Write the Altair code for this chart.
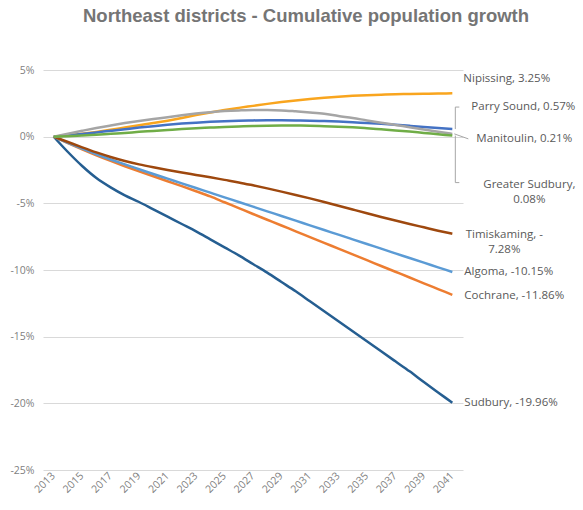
import altair as alt
import pandas as pd

years = [2013, 2014, 2015, 2016, 2017, 2018, 2019, 2020, 2021, 2022,
         2023, 2024, 2025, 2026, 2027, 2028, 2029, 2030, 2031, 2032,
         2033, 2034, 2035, 2036, 2037, 2038, 2039, 2040, 2041]
tick_years = [2013, 2015, 2017, 2019, 2021, 2023, 2025, 2027, 2029,
              2031, 2033, 2035, 2037, 2039, 2041]
y_ticks = [-25, -20, -15, -10, -5, 0, 5]

names = ["Sudbury", "Cochrane", "Algoma", "Timiskaming",
         "Nipissing", "Parry Sound", "Manitoulin", "Greater Sudbury"]
colors = ["#255E91", "#ED7D31", "#5B9BD5", "#9E480E",
          "#F9A51E", "#4472C4", "#A5A5A5", "#70AD47"]

sudbury = [0, -1.15, -2.2, -3.1, -3.8, -4.4, -4.9, -5.45, -6.0, -6.55,
           -7.1, -7.7, -8.3, -8.9, -9.55, -10.2, -10.9, -11.6, -12.35, -13.1,
           -13.85, -14.6, -15.35, -16.1, -16.85, -17.6, -18.4, -19.18, -19.96]
cochrane = [0, -0.48, -0.95, -1.4, -1.82, -2.22, -2.6, -2.97, -3.34, -3.71,
            -4.09, -4.48, -4.92, -5.36, -5.8, -6.23, -6.66, -7.1, -7.53, -7.96,
            -8.4, -8.83, -9.26, -9.7, -10.13, -10.56, -11.0, -11.43, -11.86]
algoma = [0, -0.46, -0.9, -1.32, -1.71, -2.08, -2.44, -2.8, -3.15, -3.5,
          -3.85, -4.2, -4.55, -4.9, -5.25, -5.6, -5.95, -6.3, -6.65, -7.0,
          -7.35, -7.7, -8.05, -8.4, -8.75, -9.1, -9.45, -9.8, -10.15]
timiskaming = [0, -0.4, -0.8, -1.18, -1.52, -1.82, -2.08, -2.3, -2.5, -2.69,
               -2.87, -3.05, -3.24, -3.43, -3.65, -3.88, -4.12, -4.37, -4.63, -4.9,
               -5.18, -5.46, -5.74, -6.02, -6.29, -6.55, -6.8, -7.05, -7.28]
nipissing = [0, 0.1, 0.22, 0.36, 0.52, 0.69, 0.86, 1.02, 1.2, 1.4,
             1.62, 1.82, 2.0, 2.16, 2.31, 2.46, 2.6, 2.72, 2.83, 2.92,
             3.0, 3.06, 3.11, 3.15, 3.18, 3.2, 3.22, 3.24, 3.25]
parry_sound = [0, 0.1, 0.2, 0.32, 0.44, 0.56, 0.68, 0.79, 0.89, 0.98,
               1.05, 1.11, 1.16, 1.2, 1.22, 1.23, 1.23, 1.22, 1.2, 1.17,
               1.13, 1.08, 1.02, 0.96, 0.89, 0.81, 0.73, 0.65, 0.57]
manitoulin = [0, 0.22, 0.44, 0.65, 0.84, 1.02, 1.18, 1.32, 1.45, 1.6,
              1.73, 1.84, 1.92, 1.97, 2.0, 2.0, 1.97, 1.9, 1.82, 1.72,
              1.55, 1.4, 1.22, 1.05, 0.88, 0.71, 0.54, 0.37, 0.21]
greater_sudbury = [0, 0.03, 0.08, 0.14, 0.21, 0.28, 0.36, 0.43, 0.5, 0.57,
                   0.63, 0.68, 0.73, 0.77, 0.8, 0.82, 0.83, 0.83, 0.82, 0.79,
                   0.75, 0.7, 0.63, 0.55, 0.47, 0.38, 0.28, 0.18, 0.08]

end_labels = ["Sudbury, -19.96%", "Cochrane, -11.86%", "Algoma, -10.15%",
              "Timiskaming, -\n7.28%", "Nipissing, 3.25%", "Parry Sound, 0.57%",
              "Manitoulin, 0.21%", "Greater Sudbury,\n0.08%"]

series_values = [sudbury, cochrane, algoma, timiskaming, nipissing,
                 parry_sound, manitoulin, greater_sudbury]

rows = []
for name, vals in zip(names, series_values):
    for yr, v in zip(years, vals):
        rows.append({"series": name, "year": yr, "value": v})
df = pd.DataFrame(rows)

end_rows = []
for name, vals, lab in zip(names, series_values, end_labels):
    end_rows.append({"series": name, "year": years[-1], "value": vals[-1], "label": lab})
ends = pd.DataFrame(end_rows)

FONT = "Open Sans"
LABEL_COLOR = "#595959"
AXIS_COLOR = "#7F7F7F"

x_enc = alt.X("year:O", scale=alt.Scale(padding=0.5),
              axis=alt.Axis(values=tick_years, labelAngle=-45, labelAlign="right",
                            labelBaseline="middle", domain=False, ticks=False,
                            grid=False, title=None, labelColor=AXIS_COLOR, labelFontSize=10.5,
                            labelFont=FONT, labelPadding=4))
y_enc = alt.Y("value:Q", scale=alt.Scale(domain=[-25, 5], nice=False, zero=False),
              axis=alt.Axis(values=y_ticks, labelExpr="datum.value + '%'", grid=True,
                            gridColor="#D9D9D9", gridWidth=1, domain=False, ticks=False,
                            title=None, labelColor=AXIS_COLOR, labelFontSize=10.5,
                            labelFont=FONT, labelPadding=9))

lines = alt.Chart(df).mark_line(strokeWidth=2.5, interpolate="monotone").encode(
    x=x_enc,
    y=y_enc,
    color=alt.Color("series:N", scale=alt.Scale(domain=names, range=colors), legend=None),
    order=alt.Order("year:O"),
)

# label placement (pixel offsets from each line's end point)
label_style = {
    "Sudbury": dict(align="left", dx=12, dy=0),
    "Cochrane": dict(align="left", dx=12, dy=1.5),
    "Algoma": dict(align="left", dx=12, dy=0),
    "Timiskaming": dict(align="center", dx=52, dy=1),
    "Nipissing": dict(align="left", dx=11, dy=-14),
    "Parry Sound": dict(align="left", dx=19, dy=-22),
    "Manitoulin": dict(align="left", dx=24, dy=5),
    "Greater Sudbury": dict(align="center", dx=77, dy=49),
}

text_layers = []
for name in names:
    st = label_style[name]
    text_layers.append(
        alt.Chart(ends).transform_filter(alt.datum.series == name).mark_text(
            align=st["align"], baseline="middle", dx=st["dx"], dy=st["dy"],
            lineBreak="\n", lineHeight=15, font=FONT, fontSize=11.5, color=LABEL_COLOR
        ).encode(x="year:O", y="value:Q", text="label:N")
    )

LEADER = "#A6A6A6"
def vrule(name, y2off):
    return alt.Chart(ends).transform_filter(alt.datum.series == name).mark_rule(
        color=LEADER, strokeWidth=1, xOffset=3, y2Offset=y2off
    ).encode(x="year:O", y="value:Q", y2="value:Q")

def hrule(name, yoff, x1=3, x2=7):
    return alt.Chart(ends).transform_filter(alt.datum.series == name).mark_rule(
        color=LEADER, strokeWidth=1, xOffset=x1, x2Offset=x2, yOffset=yoff
    ).encode(x="year:O", x2="year:O", y="value:Q")

def drule(name, x1, x2, y1, y2):
    return alt.Chart(ends).transform_filter(alt.datum.series == name).mark_rule(
        color=LEADER, strokeWidth=1, xOffset=x1, x2Offset=x2, yOffset=y1, y2Offset=y2
    ).encode(x="year:O", x2="year:O", y="value:Q", y2="value:Q")

leaders = [
    vrule("Parry Sound", -22),
    hrule("Parry Sound", -22),
    vrule("Greater Sudbury", 47),
    hrule("Greater Sudbury", 47),
    drule("Manitoulin", 2, 16, 0, 5),
]

chart = alt.layer(lines, *leaders, *text_layers).properties(
    width=420,
    height=400,
    autosize=alt.AutoSizeParams(type="none"),
    padding={"left": 43, "top": 70, "right": 120, "bottom": 40},
    title=alt.TitleParams(
        "Northeast districts - Cumulative population growth",
        font="Liberation Sans", fontSize=18.5, fontWeight="bold", color="#757575",
        anchor="middle", dx=53, offset=21, baseline="bottom",
    ),
).configure_view(stroke=None)

chart.save("out.html", embed_options={"renderer": "svg", "actions": False})
